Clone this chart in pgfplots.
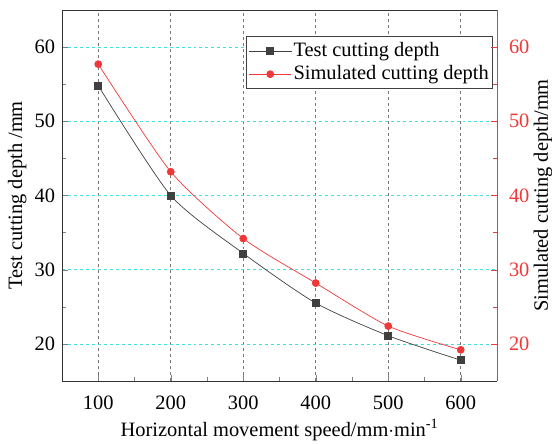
\documentclass[border=0pt]{standalone}
\usepackage{pgfplots}
\pgfplotsset{compat=1.18}
\usepackage{fontspec}
\setmainfont{Liberation Serif}
\definecolor{testc}{RGB}{64,64,64}
\definecolor{simc}{RGB}{240,56,56}
\definecolor{gridc}{RGB}{60,225,230}
\definecolor{vgrid}{RGB}{120,120,120}
\begin{document}
\fontsize{20.5}{24}\selectfont
\begin{tikzpicture}
\pgfplotsset{
  every axis/.append style={
    scale only axis, width=435bp, height=371bp,
    xmin=50, xmax=650, ymin=15, ymax=65,
    tick align=inside,
    /pgf/number format/assume math mode=true,
    tick label style={font=\fontsize{20.5}{24}\selectfont},
    label style={font=\fontsize{20.5}{24}\selectfont},
    major tick length=6bp, minor tick length=4bp,
  }
}
\begin{axis}[name=main,
  axis x line*=box, axis y line*=left,
  xtick={100,200,300,400,500,600}, minor x tick num=1,
  ytick={20,30,40,50,60}, minor y tick num=1,
  xtick pos=bottom,
  xticklabel style={yshift=-8bp},
  xmajorgrids, ymajorgrids,
  major x grid style={dashed, vgrid, line width=0.6bp},
  major y grid style={dashed, gridc, line width=0.6bp},
  axis line style={line width=0.9bp, black!80},
  xlabel={Horizontal movement speed/mm$\cdot$min\textsuperscript{-1}},
  ylabel={Test cutting depth /mm},
  xlabel style={at={(axis description cs:0.5,-0.132)}, anchor=center},
  ylabel style={at={(axis description cs:-0.103,0.5)}, anchor=center},
  legend cell align=left,
  legend image code/.code={\draw[mark repeat=2, mark phase=2] plot coordinates {(0bp,0bp) (21bp,0bp) (42bp,0bp)};},
  legend style={at={(0.991,0.930)}, anchor=north east, draw=black!75, line width=0.8bp, fill=white, inner xsep=2bp, inner ysep=4bp, row sep=2bp, font=\fontsize{20.5}{22}\selectfont},
]
\addplot[testc, line width=0.7bp, smooth, tension=0.4, mark=square*, mark size=3.5bp, mark options={fill=testc, draw=testc}] coordinates {
(100,54.8) (200,40.0) (300,32.2) (400,25.5) (500,21.1) (600,17.8)};
\addlegendentry{Test cutting depth}
\addlegendimage{simc, line width=0.7bp, mark=*, mark size=3.5bp, mark options={fill=simc, draw=simc}}
\addlegendentry{Simulated cutting depth}
\end{axis}
\begin{axis}[
  axis x line=none, axis y line*=right,
  ytick={20,30,40,50,60}, minor y tick num=1,
  axis line style={line width=0.9bp, simc},
  y tick style={simc},
  yticklabel style={text=simc, xshift=5bp},
  ylabel={Simulated cutting depth/mm},
  ylabel style={at={(axis description cs:1.106,0.5)}, anchor=center},
]
\addplot[simc, line width=0.7bp, smooth, tension=0.4, mark=*, mark size=3.5bp, mark options={fill=simc, draw=simc}] coordinates {
(100,57.7) (200,43.2) (300,34.2) (400,28.2) (500,22.4) (600,19.2)};
\end{axis}
\pgfresetboundingbox
\path ([xshift=-62bp,yshift=-63bp]main.south west) rectangle ++(552bp,444bp);
\end{tikzpicture}
\end{document}
